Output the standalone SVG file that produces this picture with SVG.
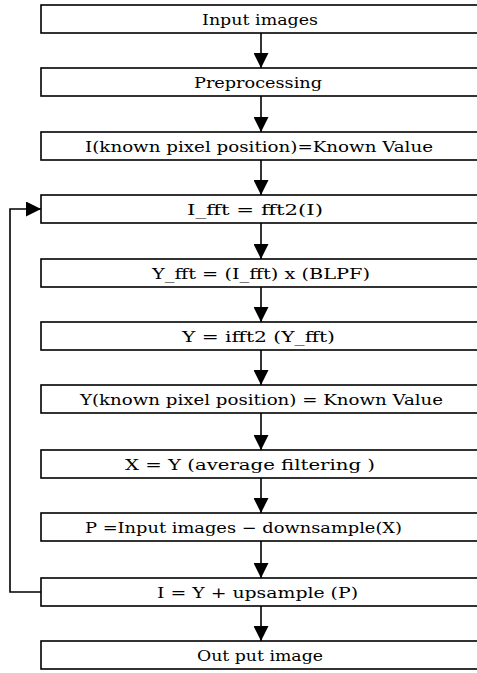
<svg xmlns="http://www.w3.org/2000/svg" width="477" height="673" viewBox="0 0 477 673">
  <style>
    .box { fill: #fff; stroke: #000; stroke-width: 1.6; }
    .lbl { font-family: "DejaVu Serif", "Liberation Serif", serif; font-size: 15px; fill: #000; }
    .wire { fill: none; stroke: #000; stroke-width: 1.6; }
  </style>
  <defs>
    <marker id="head" viewBox="0 0 10 10" refX="10" refY="5" markerWidth="15" markerHeight="15" markerUnits="userSpaceOnUse" orient="auto">
      <path d="M0,0 L10,5 L0,10 Z" fill="#000"/>
    </marker>
  </defs>
  <rect width="477" height="673" fill="#fff"/>

  <g id="connectors">
    <line class="wire" x1="261" y1="33" x2="261" y2="68" marker-end="url(#head)"/>
    <line class="wire" x1="261" y1="96" x2="261" y2="132" marker-end="url(#head)"/>
    <line class="wire" x1="261" y1="160" x2="261" y2="195" marker-end="url(#head)"/>
    <line class="wire" x1="261" y1="223" x2="261" y2="259" marker-end="url(#head)"/>
    <line class="wire" x1="261" y1="287" x2="261" y2="322" marker-end="url(#head)"/>
    <line class="wire" x1="261" y1="350" x2="261" y2="385" marker-end="url(#head)"/>
    <line class="wire" x1="261" y1="413" x2="261" y2="450" marker-end="url(#head)"/>
    <line class="wire" x1="261" y1="478" x2="261" y2="513" marker-end="url(#head)"/>
    <line class="wire" x1="261" y1="541" x2="261" y2="578" marker-end="url(#head)"/>
    <line class="wire" x1="261" y1="606" x2="261" y2="641" marker-end="url(#head)"/>
    <polyline class="wire" points="41,592 10,592 10,209 41,209" marker-end="url(#head)"/>
  </g>

  <g id="input-images"><rect class="box" x="41" y="5" width="440" height="28"/><text class="lbl" x="202" y="25" textLength="116" lengthAdjust="spacingAndGlyphs">Input images</text></g>
  <g id="preprocessing"><rect class="box" x="41" y="68" width="440" height="28"/><text class="lbl" x="194" y="88" textLength="128" lengthAdjust="spacingAndGlyphs">Preprocessing</text></g>
  <g id="set-known-i"><rect class="box" x="41" y="132" width="440" height="28"/><text class="lbl" x="85" y="152" textLength="348" lengthAdjust="spacingAndGlyphs">I(known pixel position)=Known Value</text></g>
  <g id="fft"><rect class="box" x="41" y="195" width="440" height="28"/><text class="lbl" x="187" y="215" textLength="136" lengthAdjust="spacingAndGlyphs">I_fft = fft2(I)</text></g>
  <g id="blpf"><rect class="box" x="41" y="259" width="440" height="28"/><text class="lbl" x="152" y="279" textLength="218" lengthAdjust="spacingAndGlyphs">Y_fft = (I_fft) x (BLPF)</text></g>
  <g id="ifft"><rect class="box" x="41" y="322" width="440" height="28"/><text class="lbl" x="182" y="342" textLength="153" lengthAdjust="spacingAndGlyphs">Y = ifft2 (Y_fft)</text></g>
  <g id="set-known-y"><rect class="box" x="41" y="385" width="440" height="28"/><text class="lbl" x="80" y="405" textLength="363" lengthAdjust="spacingAndGlyphs">Y(known pixel position) = Known Value</text></g>
  <g id="average"><rect class="box" x="41" y="450" width="440" height="28"/><text class="lbl" x="125" y="470" textLength="250" lengthAdjust="spacingAndGlyphs">X = Y (average filtering )</text></g>
  <g id="residual"><rect class="box" x="41" y="513" width="440" height="28"/><text class="lbl" x="85" y="533" textLength="317" lengthAdjust="spacingAndGlyphs">P =Input images −  downsample(X)</text></g>
  <g id="update"><rect class="box" x="41" y="578" width="440" height="28"/><text class="lbl" x="157" y="598" textLength="201" lengthAdjust="spacingAndGlyphs">I = Y + upsample (P)</text></g>
  <g id="output"><rect class="box" x="41" y="641" width="440" height="28"/><text class="lbl" x="197" y="661" textLength="126" lengthAdjust="spacingAndGlyphs">Out put image</text></g>
</svg>
